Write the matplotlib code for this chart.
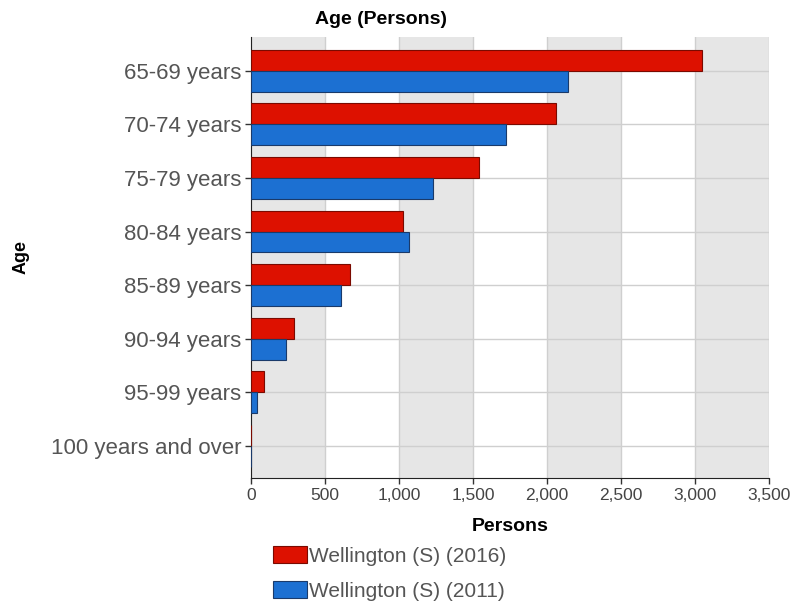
import numpy as np
import matplotlib
matplotlib.use("Agg")
import matplotlib.pyplot as plt

plt.rcParams["font.family"] = ["Liberation Sans", "DejaVu Sans"]

categories = ["65-69 years", "70-74 years", "75-79 years", "80-84 years",
              "85-89 years", "90-94 years", "95-99 years", "100 years and over"]
persons_2016 = [3050, 2060, 1540, 1025, 670, 290, 87, 0]
persons_2011 = [2140, 1720, 1230, 1065, 605, 235, 40, 0]
series_labels = ["Wellington (S) (2016)", "Wellington (S) (2011)"]
xticks = [0, 500, 1000, 1500, 2000, 2500, 3000, 3500]

RED = "#dd1100"
BLUE = "#1c70d2"

fig = plt.figure(figsize=(7.92, 6.06), dpi=100)
ax = fig.add_axes([251 / 792, 128 / 606, 518 / 792, 441 / 606])

# alternating background bands
for i in range(0, len(xticks) - 1, 2):
    ax.axvspan(xticks[i], xticks[i + 1], color="#e6e6e6", zorder=0, lw=0)

y = np.arange(len(categories))
h = 0.39
ax.barh(y - h / 2, persons_2016, height=h, color=RED, edgecolor="#7a0a00",
        linewidth=0.8, zorder=3, label=series_labels[0])
ax.barh(y + h / 2, persons_2011, height=h, color=BLUE, edgecolor="#1a3a6a",
        linewidth=0.8, zorder=3, label=series_labels[1])

ax.set_xlim(0, 3500)
ax.set_ylim(len(categories) - 1 + 0.6, -0.63)
ax.set_xticks(xticks)
ax.set_xticklabels([f"{v:,}" for v in xticks], fontsize=12.5, color="#444444")
ax.set_yticks(y)
ax.set_yticklabels(categories, fontsize=16, color="#555555")
ax.tick_params(axis="both", length=4, width=1, color="#333333", pad=3)

ax.grid(True, color="#cfcfcf", linewidth=1, zorder=1)
ax.set_axisbelow(True)
for s in ("top", "right"):
    ax.spines[s].set_visible(False)
ax.spines["left"].set_color("#222222")
ax.spines["bottom"].set_color("#222222")

ax.set_xlabel("Persons", fontsize=14, fontweight="bold", labelpad=11)
ax.set_ylabel("Age", fontsize=13, fontweight="bold")
ax.yaxis.set_label_coords(-(251 - 30) / 518, 0.5)
fig.text(381 / 792, 1 - 20 / 606, "Age (Persons)", fontsize=14,
         fontweight="bold", ha="center", va="center")

fig.legend(loc="upper left", bbox_to_anchor=(265 / 792, 1 - 538 / 606),
           frameon=False, fontsize=15, handlelength=1.6, handleheight=0.85,
           handletextpad=0.1, labelspacing=0.75, borderaxespad=0,
           labelcolor="#555555")

fig.savefig("out.png", dpi=100)
